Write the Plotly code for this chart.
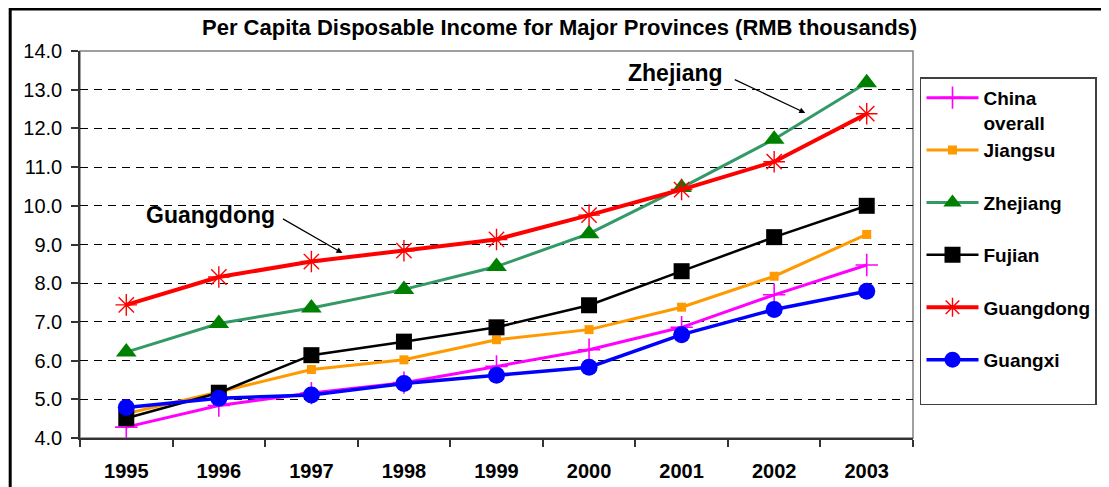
import plotly.graph_objects as go

years = ["1995", "1996", "1997", "1998", "1999", "2000", "2001", "2002", "2003"]
china = [4.28, 4.84, 5.16, 5.43, 5.85, 6.28, 6.86, 7.70, 8.47]
jiangsu = [4.63, 5.19, 5.77, 6.02, 6.54, 6.80, 7.38, 8.18, 9.26]
zhejiang = [6.22, 6.96, 7.36, 7.84, 8.43, 9.28, 10.47, 11.72, 13.18]
fujian = [4.51, 5.17, 6.14, 6.49, 6.86, 7.43, 8.31, 9.19, 10.00]
guangdong = [7.44, 8.16, 8.56, 8.84, 9.13, 9.76, 10.42, 11.14, 12.38]
guangxi = [4.79, 5.03, 5.11, 5.41, 5.62, 5.83, 6.67, 7.32, 7.79]
y_ticks = [4, 5, 6, 7, 8, 9, 10, 11, 12, 13, 14]

FONT = "Arial, Liberation Sans, sans-serif"

fig = go.Figure()

series = [
    ("China<br>overall", china, "#FF00FF", "#FF00FF", "cross-thin", 16, 3, 1.6),
    ("Jiangsu<br> ", jiangsu, "#FF9900", "#FF9900", "square", 9, 3, 0),
    ("Zhejiang<br> ", zhejiang, "#339966", "#008000", "triangle-up", 18, 3, 0),
    ("Fujian<br> ", fujian, "#000000", "#000000", "square", 16, 2.5, 0),
    ("Guangdong<br> ", guangdong, "#FF0000", "#FF0000", "asterisk", 18, 4, 1.4),
    ("Guangxi<br> ", guangxi, "#0000FF", "#0000FF", "circle", 17, 3.5, 0),
]

for name, vals, lc, mc, sym, size, lw, mlw in series:
    marker = dict(symbol=sym, size=size, color=mc)
    if sym in ("cross-thin", "asterisk"):
        marker["line"] = dict(color=mc, width=mlw)
    else:
        marker["line"] = dict(width=0)
    fig.add_trace(go.Scatter(
        x=years, y=vals, name=name, mode="lines+markers",
        line=dict(color=lc, width=lw), marker=marker,
    ))

# plot area border (gray)
fig.add_shape(type="rect", xref="x domain", yref="y domain", x0=0, x1=1, y0=0, y1=1,
              line=dict(color="#808080", width=1.5), layer="below")
# outer chart border
fig.add_shape(type="rect", xref="paper", yref="paper", x0=-0.0838, x1=1.2305, y0=-0.2, y1=1.1085,
              line=dict(color="#000000", width=3))

# annotations
fig.add_annotation(x=0.912, y=9.76, xref="x", yref="y", text="<b>Guangdong</b>",
                   showarrow=False, font=dict(family=FONT, size=23, color="#000"))
fig.add_annotation(x=2.335, y=8.78, xref="x", yref="y", text="", showarrow=True,
                   ax=-61, ay=-35, arrowhead=2, arrowsize=1, arrowwidth=1.2, arrowcolor="#000")
fig.add_annotation(x=5.935, y=13.43, xref="x", yref="y", text="<b>Zhejiang</b>",
                   showarrow=False, font=dict(family=FONT, size=23, color="#000"))
fig.add_annotation(x=7.336, y=12.40, xref="x", yref="y", text="", showarrow=True,
                   ax=-72, ay=-34, arrowhead=2, arrowsize=1, arrowwidth=1.2, arrowcolor="#000")

fig.update_layout(
    width=1101, height=479,
    margin=dict(l=72, r=194, t=43, b=49),
    paper_bgcolor="white", plot_bgcolor="white",
    font=dict(family=FONT, color="#000"),
    title=dict(text="<b>Per Capita Disposable Income for Major Provinces (RMB thousands)</b>",
               x=0.501, xanchor="center", y=1 - 19 / 479, yanchor="middle", yref="container",
               font=dict(family=FONT, size=22, color="#000")),
    showlegend=True,
    legend=dict(x=1.0084, y=0.932, xanchor="left", yanchor="top",
                bgcolor="white", bordercolor="#404040", borderwidth=1.5,
                font=dict(family=FONT, size=19, color="#000", weight="bold"),
                valign="top", itemwidth=52, tracegroupgap=0),
    xaxis=dict(type="category", tickson="boundaries", ticks="outside", ticklen=7,
               tickcolor="#333", tickwidth=1.5, showline=True, linecolor="#333", linewidth=1.5,
               showgrid=False, tickfont=dict(family=FONT, size=20, color="#000", weight="bold"),
               ticklabelstandoff=14, range=[-0.5, 8.5], automargin=False),
    yaxis=dict(range=[4, 14], tickvals=y_ticks, tickformat=".1f", ticks="outside", ticklen=7,
               tickcolor="#333", tickwidth=1.5, showline=True, linecolor="#333", linewidth=1.5,
               showgrid=True, gridcolor="#000000", gridwidth=1, griddash="8px,6px",
               tickfont=dict(family=FONT, size=20, color="#000"), ticklabelstandoff=5,
               zeroline=False, automargin=False),
)

fig.write_html("out.html")
